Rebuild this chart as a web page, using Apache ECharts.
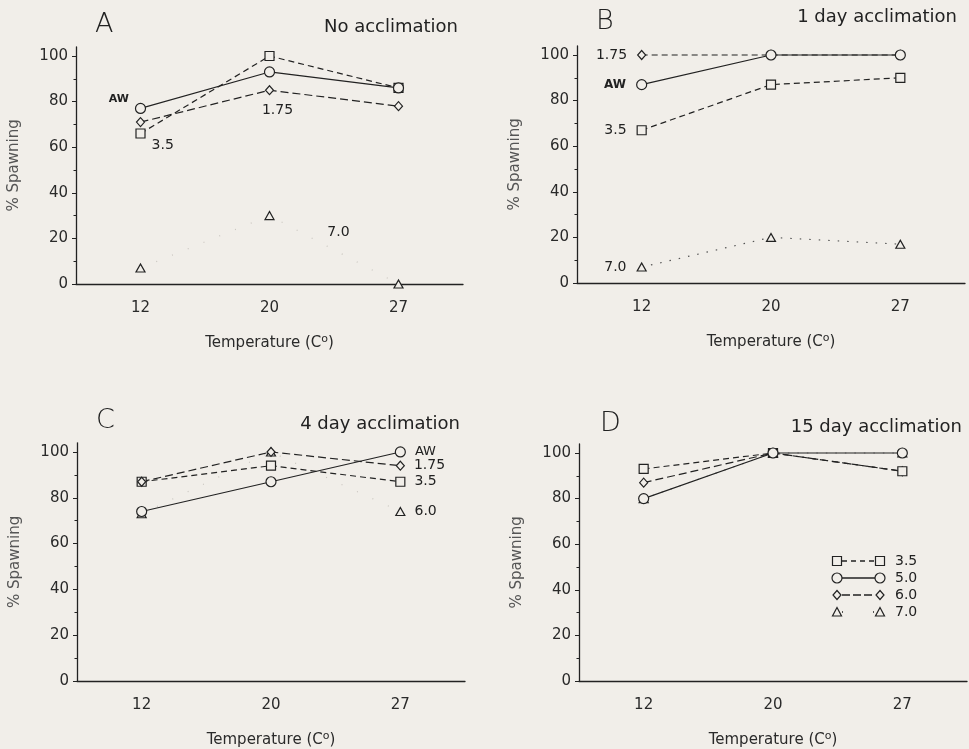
<!DOCTYPE html>
<html>
<head>
<meta charset="utf-8">
<script src="https://cdn.jsdelivr.net/npm/echarts@6/dist/echarts.min.js"></script>
<style>html,body{margin:0;padding:0;background:#f1eee9;}#c{width:969px;height:749px;}</style>
</head>
<body>
<div id="c"></div>
<script>
// ---- data ----
const temps = ['12', '20', '27'];
const yTicks = [0, 20, 40, 60, 80, 100];
// Panel A: no acclimation
const aAW = [77, 93, 86];
const a175 = [71, 85, 78];
const a35 = [66, 100, 86];
const a70 = [7, 30, 0];
// Panel B: 1 day acclimation
const bAW = [87, 100, 100];
const b175 = [100, 100, 100];
const b35 = [67, 87, 90];
const b70 = [7, 20, 17];
// Panel C: 4 day acclimation
const cAW = [74, 87, 100];
const c175 = [87, 100, 94];
const c35 = [87, 94, 87];
const c60 = [73, 100, 74];
// Panel D: 15 day acclimation
const d35 = [93, 100, 92];
const d50 = [80, 100, 100];
const d60 = [87, 100, 92];
const d70 = [80, 100, 100];
const panelLetters = ['A', 'B', 'C', 'D'];
const panelTitles = ['No acclimation', '1 day acclimation', '4 day acclimation', '15 day acclimation'];
const legendNames = ['3.5', '5.0', '6.0', '7.0'];

// ---- layout ----
const BG = '#f1eee9';
const INK = '#222';
const FONT = 'DejaVu Sans';
const boxes = [
  {xL: 76, xR: 463, y100: 56, y0: 284},
  {xL: 577, xR: 965, y100: 55, y0: 283},
  {xL: 77, xR: 465, y100: 452, y0: 682},
  {xL: 579, xR: 967, y100: 453, y0: 681}
];
const YMAX = 104;
const grids = boxes.map(b => {
  const s = (b.y0 - b.y100) / 100;
  return {left: b.xL, top: b.y100 - (YMAX - 100) * s, width: b.xR - b.xL, height: YMAX * s, containLabel: false};
});

const xAxes = grids.map((g, i) => ({
  type: 'category', gridIndex: i, data: temps, boundaryGap: true,
  axisLine: {lineStyle: {color: INK, width: 1.3}},
  axisTick: {alignWithLabel: true, length: 4, lineStyle: {color: INK}},
  axisLabel: {color: '#2a2a2a', fontSize: 15, fontFamily: FONT, margin: 17},
  name: 'Temperature (C{o|o})', nameLocation: 'middle', nameGap: 50,
  nameTextStyle: {color: '#2a2a2a', fontSize: 15, fontFamily: FONT,
    rich: {o: {fontSize: 11, padding: [0, 0, 8, 0], color: '#2a2a2a', fontFamily: FONT}}},
  splitLine: {show: false}
}));
const yAxes = grids.map((g, i) => ({
  type: 'value', gridIndex: i, min: 0, max: YMAX, interval: 20,
  axisLine: {show: true, lineStyle: {color: INK, width: 1.3}},
  axisTick: {show: true, customValues: yTicks, length: 4, lineStyle: {color: INK}},
  minorTick: {show: true, splitNumber: 2, length: 2.5, lineStyle: {color: INK}},
  axisLabel: {customValues: yTicks, color: '#2a2a2a', fontSize: 15, fontFamily: FONT, margin: 8},
  splitLine: {show: false},
  name: '% Spawning', nameLocation: 'middle', nameGap: 54, nameRotate: 90,
  nameTextStyle: {color: '#555', fontSize: 15, fontFamily: FONT}
}));

const DASH = [6, 4];
const LDASH = [8, 4];
const DOT = [1.5, 8];
const FAINT = [1, 16];
const SYM = {circle: 10, rect: 9, diamond: [8, 9], triangle: [9, 8]};

function lab(text, o) {
  return Object.assign({show: true, formatter: text, color: '#222', fontSize: 14, fontFamily: FONT}, o);
}
function mk(gi, name, values, sym, type, labels, lineColor) {
  return {
    type: 'line', name: name, xAxisIndex: gi, yAxisIndex: gi,
    data: values.map((v, i) => {
      const it = {value: v};
      if (labels && labels[i]) it.label = labels[i];
      return it;
    }),
    symbol: sym, symbolSize: SYM[sym], showAllSymbol: true,
    lineStyle: {color: lineColor || INK, width: 1.2, type: type},
    itemStyle: {color: BG, borderColor: INK, borderWidth: 1.2},
    label: {show: false},
    emphasis: {disabled: true}, silent: true, animation: false
  };
}

const series = [
  // A
  mk(0, '7.0', a70, 'triangle', FAINT, {1: lab('7.0', {position: 'inside', offset: [69, 17]})}, '#c9c5bf'),
  mk(0, '1.75', a175, 'diamond', LDASH, {1: lab('1.75', {position: 'bottom', distance: 8, offset: [8, 0]})}),
  mk(0, '3.5', a35, 'rect', DASH, {0: lab('3.5', {position: 'right', distance: 6, offset: [0, 12]})}),
  mk(0, 'AW', aAW, 'circle', 'solid', {0: lab('AW', {position: 'left', distance: 6, offset: [0, -9], fontSize: 11, fontWeight: 'bold'})}),
  // B
  mk(1, '7.0', b70, 'triangle', DOT, {0: lab('7.0', {position: 'left', distance: 10})}, '#555'),
  mk(1, '3.5', b35, 'rect', DASH, {0: lab('3.5', {position: 'left', distance: 10})}),
  mk(1, '1.75', b175, 'diamond', DASH, {0: lab('1.75', {position: 'left', distance: 10})}),
  mk(1, 'AW', bAW, 'circle', 'solid', {0: lab('AW', {position: 'left', distance: 10, fontSize: 12, fontWeight: 'bold'})}),
  // C
  mk(2, '6.0', c60, 'triangle', FAINT, {2: lab('6.0', {position: 'right', distance: 9})}, '#c9c5bf'),
  mk(2, '3.5', c35, 'rect', DASH, {2: lab('3.5', {position: 'right', distance: 9})}),
  mk(2, '1.75', c175, 'diamond', LDASH, {2: lab('1.75', {position: 'right', distance: 9})}),
  mk(2, 'AW', cAW, 'circle', 'solid', {2: lab('AW', {position: 'right', distance: 9, fontSize: 13})}),
  // D
  mk(3, '7.0', d70, 'triangle', DOT, null, '#888'),
  mk(3, '6.0', d60, 'diamond', LDASH),
  mk(3, '3.5', d35, 'rect', DASH),
  mk(3, '5.0', d50, 'circle', 'solid')
];

// titles
const letterPos = [[90, 6], [591, 3], [91, 402], [595, 405]];
const titleRight = [506, 7, 504, 2];
const titleTop = [13, 3, 410, 413];
const titles = [];
panelLetters.forEach((l, i) => {
  titles.push({text: l, left: letterPos[i][0], top: letterPos[i][1],
    textStyle: {fontSize: 27, fontWeight: 'lighter', color: '#222', fontFamily: FONT}});
  titles.push({text: panelTitles[i], right: titleRight[i], top: titleTop[i],
    textStyle: {fontSize: 18, fontWeight: 'normal', color: '#222', fontFamily: FONT}});
});

// legend in panel D (drawn as graphics)
const legSyms = ['rect', 'circle', 'diamond', 'triangle'];
const legDash = [[5, 4], 'solid', [8, 3], [1, 30]];
const legX1 = 837, legX2 = 880, legY0 = 561, legDY = 17;
function symShape(kind, cx, cy) {
  const st = {fill: BG, stroke: INK, lineWidth: 1.2};
  if (kind === 'rect') return {type: 'rect', shape: {x: cx - 4.5, y: cy - 4.5, width: 9, height: 9}, style: st};
  if (kind === 'circle') return {type: 'circle', shape: {cx: cx, cy: cy, r: 5}, style: st};
  if (kind === 'diamond') return {type: 'polygon', shape: {points: [[cx, cy - 4.5], [cx + 4, cy], [cx, cy + 4.5], [cx - 4, cy]]}, style: st};
  return {type: 'polygon', shape: {points: [[cx, cy - 4.5], [cx + 4.5, cy + 4], [cx - 4.5, cy + 4]]}, style: st};
}
const graphic = [];
legendNames.forEach((n, i) => {
  const y = legY0 + i * legDY;
  graphic.push({type: 'line', shape: {x1: legX1 + 5, y1: y, x2: legX2 - 5, y2: y},
    style: {stroke: INK, lineWidth: 1.3, lineDash: legDash[i] === 'solid' ? null : legDash[i]}});
  graphic.push(symShape(legSyms[i], legX1, y));
  graphic.push(symShape(legSyms[i], legX2, y));
  graphic.push({type: 'text', x: legX2 + 15, y: y, style: {text: n, fill: '#222', font: '14px "DejaVu Sans"', textVerticalAlign: 'middle'}});
});

const chart = echarts.init(document.getElementById('c'), null, {renderer: 'canvas'});
chart.setOption({
  backgroundColor: BG,
  animation: false,
  title: titles,
  grid: grids,
  xAxis: xAxes,
  yAxis: yAxes,
  series: series,
  graphic: graphic
});
</script>
</body>
</html>
